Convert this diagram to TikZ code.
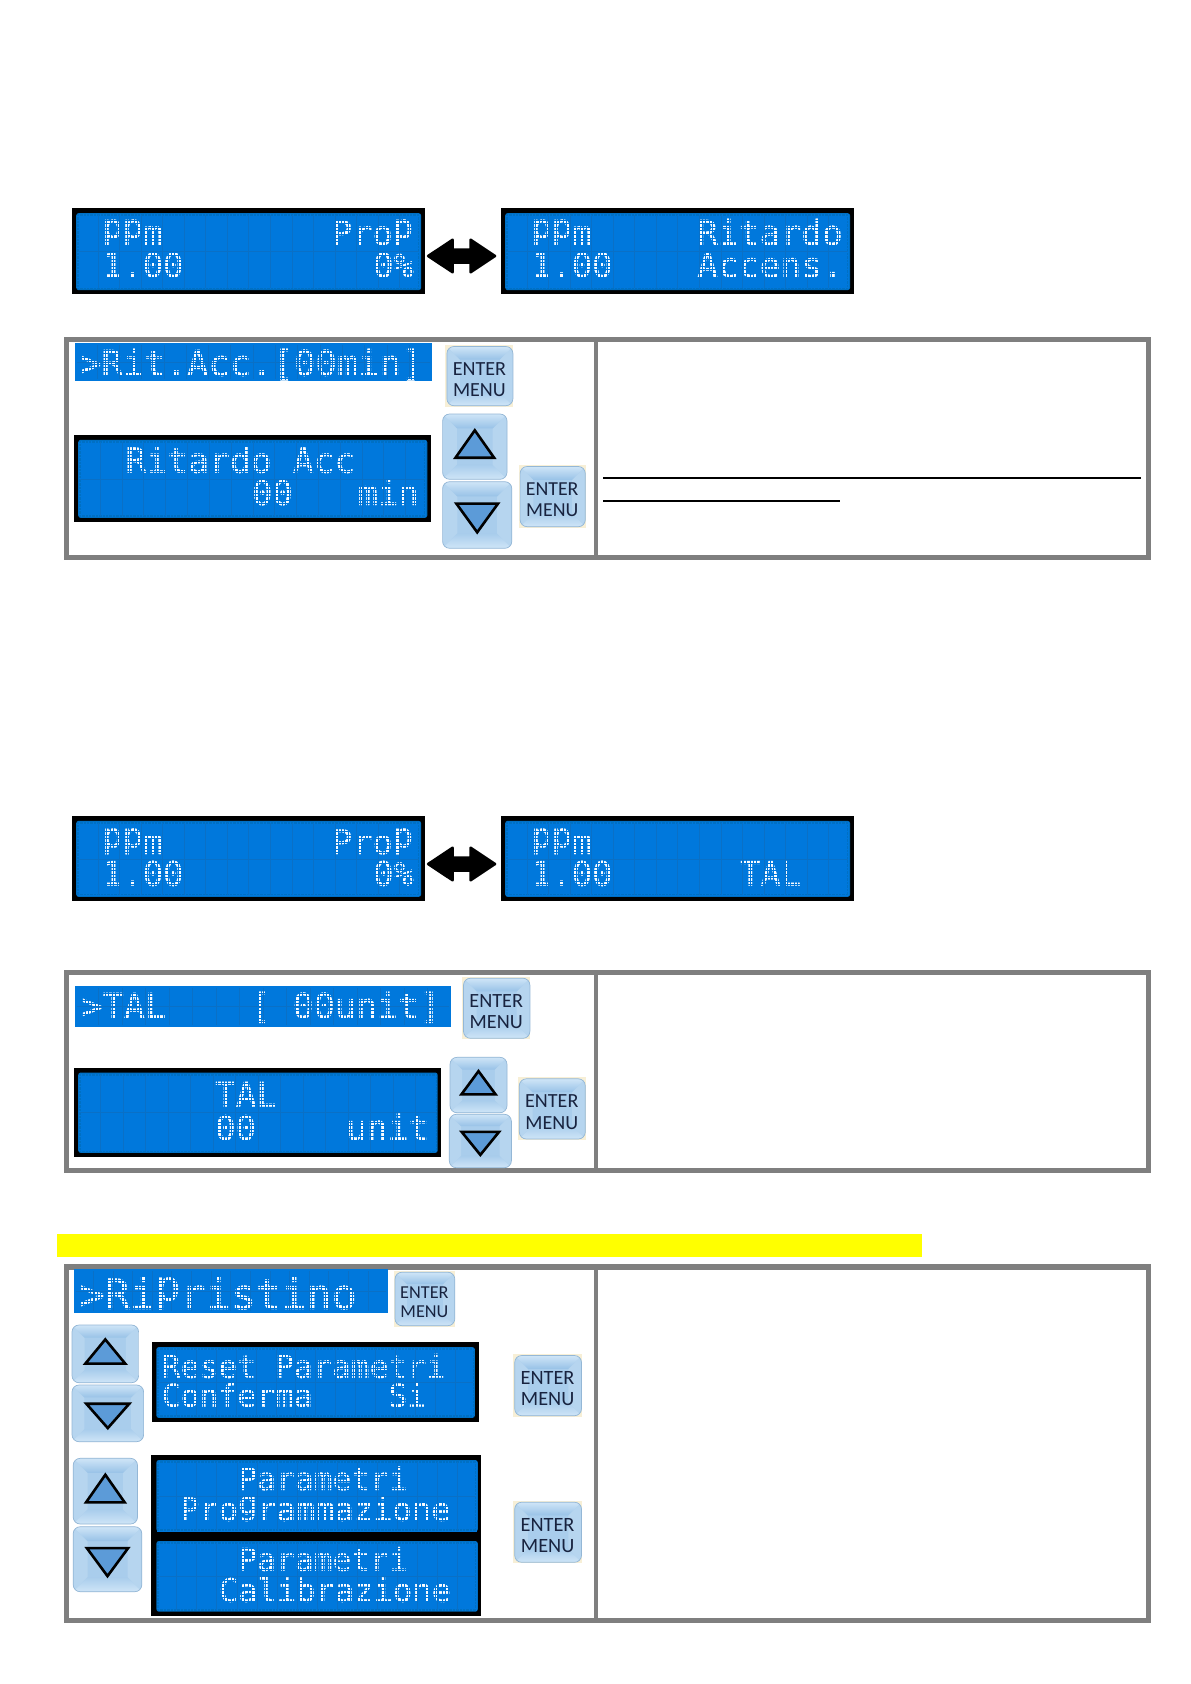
\documentclass[tikz,border=0pt]{standalone}
\usepackage{fontspec}
\newfontfamily\lcdfont[FakeBold=1]{DejaVu Sans Mono}
\newfontfamily\entfont{Carlito}
\definecolor{lcdblue}{HTML}{0078DC}
\definecolor{lcdedge}{HTML}{0070C4}
\definecolor{lcdgrid}{HTML}{0A70C6}
\definecolor{tabgray}{HTML}{7F7F7F}
\definecolor{lcdink}{HTML}{F8FBFF}
\definecolor{btnmid}{HTML}{A9CDEC}
\definecolor{btnlight}{HTML}{CFE5F7}
\definecolor{btnside}{HTML}{B6D5EF}
\definecolor{btndark}{HTML}{98C2E7}
\definecolor{btnedge}{HTML}{94B7D6}
\definecolor{halo}{HTML}{F7EFD6}
\definecolor{trifill}{HTML}{5C9BD8}
\definecolor{enterink}{HTML}{18233F}
\definecolor{barcolor}{HTML}{FFFF00}
\tikzset{
  lcdtext/.style={text=lcdink,inner sep=0pt,anchor=base west},
  dotmask/.style={draw=lcdblue,line width=.85pt},
  gridline/.style={draw=lcdgrid,line width=.5pt},
  entertext/.style={text=enterink,align=center,inner sep=0pt},
  trishape/.style={fill=trifill,draw=black,line width=2.6pt},
  dblarrow/.style={fill=black,draw=black,line width=2.5pt,line join=round},
  tabline/.style={draw=black,line width=2pt}
}
% raised letters: the display draws them without a descender
\newcommand{\rp}{\raisebox{.2em}{p}}
\newcommand{\rgg}{\raisebox{.2em}{g}}
% text: name, x, baseline y, character advance, text
\newcommand{\lcdtxt}[5]{%
  \pgfmathsetmacro{\fsz}{#4/0.602}%
  \node[lcdtext] (#1) at ({#2-1},#3) {\lcdfont\fontsize{\fsz pt}{\fsz pt}\selectfont #5};}
% dot matrix overlay and cell grid over a screen area
\newcommand{\screenmask}[4]{%
  \pgfmathtruncatemacro{\nx}{((#3)-(#1))/3.4}%
  \pgfmathtruncatemacro{\ny}{((#4)-(#2))/3.55}%
  \foreach \k in {1,...,\nx}{\draw[dotmask] ({(#1)+\k*3.4},{(#2)+1}) -- ({(#1)+\k*3.4},{(#4)-1});}%
  \foreach \k in {1,...,\ny}{\draw[dotmask] ({(#1)+1},{(#2)+\k*3.55}) -- ({(#3)-1},{(#2)+\k*3.55});}%
  \foreach \k in {1,...,15}{\draw[gridline] ({(#1)+((#3)-(#1))*\k/16},{(#2)+2}) -- ({(#1)+((#3)-(#1))*\k/16},{(#4)-2});}%
  \draw[gridline] ({(#1)+2},{((#2)+(#4))/2}) -- ({(#3)-2},{((#2)+(#4))/2});}
% inner screen: x0 y0 x1 y1 content
\newcommand{\lcdin}[5]{%
  \fill[lcdedge,rounded corners=2.5pt] ({#1},{#2}) rectangle ({#3},{#4});
  \fill[lcdblue] ({(#1)+3},{(#2)+3}) rectangle ({(#3)-3},{(#4)-3});
  #5
  \screenmask{#1}{#2}{#3}{#4}}
% framed display
\newcommand{\lcdbox}[5]{%
  \fill[black] (#1,#2) rectangle (#3,#4);
  \lcdin{#1+4.5}{#2+4.8}{#3-3.7}{#4-3.8}{#5}}
% selected line band
\newcommand{\bandbox}[5]{%
  \fill[lcdblue] (#1,#2) rectangle (#3,#4);
  #5
  \screenmask{#1}{#2}{#3}{#4}}
% button body
\newcommand{\btn}[4]{%
  \pgfmathsetmacro{\bd}{.22*((#4)-(#2))}%
  \pgfmathsetmacro{\bxa}{#1}\pgfmathsetmacro{\bya}{#2}%
  \pgfmathsetmacro{\bxb}{#3}\pgfmathsetmacro{\byb}{#4}%
  \begin{scope}
    \clip[rounded corners=7pt] (\bxa,\bya) rectangle (\bxb,\byb);
    \fill[btnmid] (\bxa,\bya) rectangle (\bxb,\byb);
    \fill[btnside] (\bxa,\bya) -- ({\bxa+\bd},{\bya+\bd}) -- ({\bxa+\bd},{\byb-\bd}) -- (\bxa,\byb) -- cycle;
    \fill[btnside] (\bxb,\bya) -- ({\bxb-\bd},{\bya+\bd}) -- ({\bxb-\bd},{\byb-\bd}) -- (\bxb,\byb) -- cycle;
    \shade[top color=btnlight,bottom color=btndark] (\bxa,\bya) -- (\bxb,\bya) -- ({\bxb-\bd},{\bya+\bd}) -- ({\bxa+\bd},{\bya+\bd}) -- cycle;
    \shade[top color=btnmid,bottom color=btnlight] ({\bxa+\bd},{\byb-\bd}) -- ({\bxb-\bd},{\byb-\bd}) -- (\bxb,\byb) -- (\bxa,\byb) -- cycle;
  \end{scope}
  \draw[btnedge,line width=.7pt,rounded corners=7pt] (\bxa,\bya) rectangle (\bxb,\byb);}
% enter button: name x0 y0 x1 y1
\newcommand{\enterbtn}[5]{%
  \fill[halo] (#2,#3) rectangle (#4,#5);
  \btn{#2+1.5}{#3+1.5}{#4-.5}{#5-1}
  \pgfmathsetmacro{\esz}{(#4-#2)*0.295}%
  \node[entertext,font=\entfont\fontsize{\esz pt}{1.05\dimexpr\esz pt\relax}\selectfont] (#1) at ({(#2+#4)/2},{(#3+#5)/2+3.5}) {ENTER\\MENU};}
\newcommand{\upbtn}[4]{%
  \btn{#1}{#2}{#3}{#4}
  \draw[trishape] ({(#1+#3)/2},{#2+.25*(#4-#2)}) -- ({(#1+#3)/2+.30*(#3-#1)},{#2+.67*(#4-#2)}) -- ({(#1+#3)/2-.30*(#3-#1)},{#2+.67*(#4-#2)}) -- cycle;}
\newcommand{\downbtn}[4]{%
  \btn{#1}{#2}{#3}{#4}
  \draw[trishape] ({(#1+#3)/2},{#2+.76*(#4-#2)}) -- ({(#1+#3)/2+.30*(#3-#1)},{#2+.33*(#4-#2)}) -- ({(#1+#3)/2-.30*(#3-#1)},{#2+.33*(#4-#2)}) -- cycle;}
% table frame: y0 y1 (outer)
\newcommand{\frametable}[2]{%
  \fill[tabgray] (64,#1) rectangle (1151,#2);
  \fill[white] (69.4,{#1+5.3}) rectangle (593.7,{#2-5});
  \fill[white] (597.6,{#1+5.3}) rectangle (1145.7,{#2-5});}
% double arrow between two displays, centred at x y
\newcommand{\dblarrowat}[2]{%
  \draw[dblarrow] ({#1-33.5},#2) -- ({#1-9},{#2-16.3}) -- ({#1-9},{#2-6.5}) -- ({#1+9},{#2-6.5}) -- ({#1+9},{#2-16.3}) -- ({#1+33.5},#2) -- ({#1+9},{#2+16.3}) -- ({#1+9},{#2+6.5}) -- ({#1-9},{#2+6.5}) -- ({#1-9},{#2+16.3}) -- cycle;}
\begin{document}
\begin{tikzpicture}[x=1pt,y=-1pt]
\useasboundingbox (0,0) rectangle (1191,1684);
\fill[white] (0,0) rectangle (1191,1684);

% ---- first pair
\lcdbox{71.7}{208.3}{424.8}{294}{%
  \lcdtxt{a1}{103}{245}{20.3}{\rp\rp m}
  \lcdtxt{a2}{103}{277.3}{20.3}{1.00}
  \lcdtxt{a3}{332.7}{245}{20.3}{Pro\rp}
  \lcdtxt{a4}{374}{277.3}{20.3}{0\%}}
\lcdbox{500.7}{208.3}{853.8}{294}{%
  \lcdtxt{b1}{532}{245}{20.3}{\rp\rp m}
  \lcdtxt{b2}{532}{277.3}{20.3}{1.00}
  \lcdtxt{b3}{698}{245}{20.8}{Ritardo}
  \lcdtxt{b4}{698}{277.3}{20.8}{Accens.}}
\dblarrowat{461.6}{256}

% ---- first table
\frametable{337}{560}
\bandbox{74.5}{343}{431.6}{380.7}{\lcdtxt{c1}{80.8}{375.7}{21.4}{>Rit.Acc.[00min]}}
\enterbtn{ent1}{445.4}{345}{513.4}{406.7}
\lcdbox{73.7}{435}{431}{521.7}{%
  \lcdtxt{d1}{126.3}{472.7}{20.9}{Ritardo Acc}
  \lcdtxt{d2}{252.8}{505}{20.4}{00}
  \lcdtxt{d3}{358.4}{505}{20.4}{min}}
\upbtn{442.6}{414}{507}{479.3}
\downbtn{442.6}{481.7}{511.8}{548.3}
\enterbtn{ent2}{518.6}{465}{585.8}{527.7}
\coordinate (l1a) at (603,478);
\coordinate (l1b) at (1141,478);
\coordinate (l2a) at (603,501);
\coordinate (l2b) at (840,501);
\draw[tabline] (l1a) -- (l1b);
\draw[tabline] (l2a) -- (l2b);

% ---- second pair
\lcdbox{71.7}{816}{424.8}{900.7}{%
  \lcdtxt{e1}{103}{854}{20.3}{\rp\rp m}
  \lcdtxt{e2}{103}{885.7}{20.3}{1.00}
  \lcdtxt{e3}{332.7}{854}{20.3}{Pro\rp}
  \lcdtxt{e4}{374}{885.7}{20.3}{0\%}}
\lcdbox{500.7}{816}{853.8}{900.7}{%
  \lcdtxt{f1}{532}{854}{20.3}{\rp\rp m}
  \lcdtxt{f2}{532}{885.7}{20.3}{1.00}
  \lcdtxt{f3}{741}{885.7}{20.3}{TAL}}
\dblarrowat{461.6}{864}

% ---- second table
\frametable{970}{1173.3}
\bandbox{74.9}{986}{451}{1026.7}{\lcdtxt{g1}{82.4}{1018.3}{21.1}{>TAL\ \ \ \ [\ 00unit]}}
\enterbtn{ent3}{462}{976.7}{530.4}{1039.3}
\lcdbox{73.7}{1067.7}{441.4}{1156.7}{%
  \lcdtxt{h1}{216}{1106.7}{20.6}{TAL}
  \lcdtxt{h2}{216}{1140}{20.4}{00}
  \lcdtxt{h3}{346.6}{1140}{20.9}{unit}}
\upbtn{450}{1057.3}{507}{1112.7}
\downbtn{449.3}{1114.3}{511.4}{1167.7}
\enterbtn{ent4}{517.8}{1077.3}{585.8}{1140}

% ---- yellow bar
\fill[barcolor] (57,1234) rectangle (921.5,1256.7);

% ---- third table
\frametable{1264.3}{1622.7}
\bandbox{73.6}{1269.3}{387.5}{1313.3}{\lcdtxt{k1}{80.4}{1309}{25.2}{>Ri\rp ristino}}
\enterbtn{ent5}{393.5}{1270.7}{455.3}{1326.7}
\upbtn{72}{1325}{138.6}{1382.7}
\downbtn{72}{1385}{143.6}{1441.7}
\lcdbox{151.8}{1342.3}{478.6}{1421.7}{%
  \lcdtxt{m1}{162.5}{1377.7}{18.9}{Reset Parametri}
  \lcdtxt{m2}{162.5}{1406.7}{18.9}{Conferma\ \ \ \ Si}}
\enterbtn{ent6}{513.2}{1354}{582}{1416.7}
\upbtn{73.2}{1458.3}{137.5}{1524}
\downbtn{73.2}{1526.7}{141.8}{1591.7}
\fill[black] (151,1455) rectangle (481,1615.7);
\lcdin{156.4}{1460}{477.8}{1531.7}{%
  \lcdtxt{n1}{239.3}{1490}{18.8}{Parametri}
  \lcdtxt{n2}{181}{1520.7}{19.3}{Pro\rgg rammazione}}
\lcdin{156.4}{1541}{477.8}{1611.7}{%
  \lcdtxt{o1}{239.3}{1570.7}{18.8}{Parametri}
  \lcdtxt{o2}{219.6}{1601.7}{19.35}{Calibrazione}}
\enterbtn{ent7}{513.2}{1500.7}{582}{1563.3}
\end{tikzpicture}
\end{document}
